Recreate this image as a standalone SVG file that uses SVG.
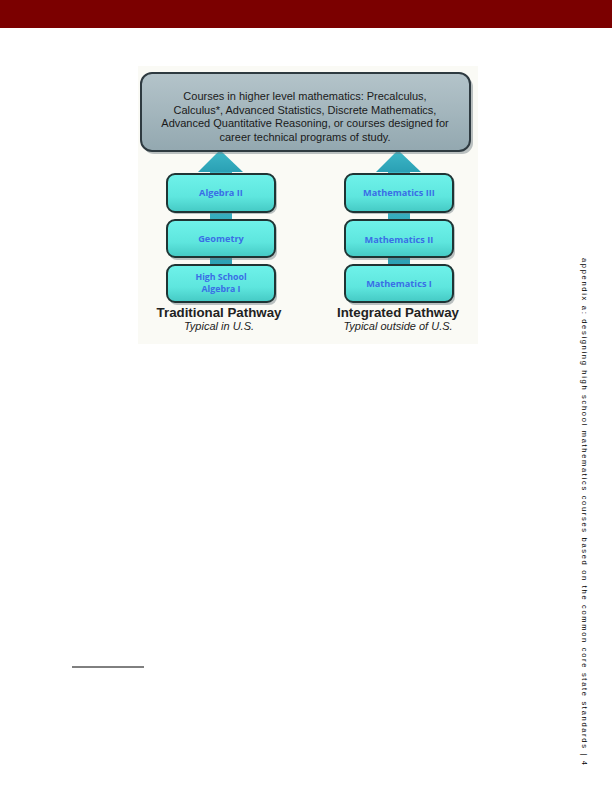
<svg xmlns="http://www.w3.org/2000/svg" width="612" height="792" viewBox="0 0 612 792">
<defs>
<linearGradient id="gTop" x1="0" y1="0" x2="0" y2="1">
<stop offset="0" stop-color="#b4c4ca"/>
<stop offset="1" stop-color="#93a8b0"/>
</linearGradient>
<linearGradient id="gBox" x1="0" y1="0" x2="0" y2="1">
<stop offset="0" stop-color="#6ff2ea"/>
<stop offset="0.6" stop-color="#5ee6de"/>
<stop offset="1" stop-color="#44c9c4"/>
</linearGradient>
<linearGradient id="gArrow" x1="0" y1="0" x2="0" y2="1">
<stop offset="0" stop-color="#3fb8c8"/>
<stop offset="1" stop-color="#2aa0b4"/>
</linearGradient>
</defs>
<style>
.top{fill:url(#gTop);stroke:#2e3a40;stroke-width:2}
.shadow{fill:#6d7a80;opacity:0.45}
.box{fill:url(#gBox);stroke:#1f3434;stroke-width:2}
.arrow{fill:url(#gArrow)}
.topt{font-family:"Liberation Sans",Arial,sans-serif;font-size:11px;fill:#1a1a1a;text-anchor:middle}
.lbl{font-family:"Open Sans","DejaVu Sans",sans-serif;font-size:9.2px;font-weight:bold;fill:#3a6ee6;text-anchor:middle}
.lbl2{font-family:"Open Sans","DejaVu Sans",sans-serif;font-size:8.8px;font-weight:bold;fill:#3a6ee6;text-anchor:middle}
.path{font-family:"Liberation Sans",Arial,sans-serif;font-size:13.3px;font-weight:bold;fill:#222;text-anchor:middle}
.sub{font-family:"Liberation Sans",Arial,sans-serif;font-size:11px;font-style:italic;fill:#222;text-anchor:middle}
.side{font-family:"Liberation Sans",Arial,sans-serif;font-size:7.5px;fill:#000}
</style>
<rect x="0" y="0" width="612" height="28" fill="#7b0000"/>
<rect x="138" y="66" width="340" height="278" fill="#fafaf5"/>
<g id="connectors">
<rect class="arrow" x="210" y="165" width="22" height="105"/>
<polygon class="arrow" points="198,172 220,150 243,172"/>
<rect class="arrow" x="388" y="165" width="22" height="105"/>
<polygon class="arrow" points="376,172 398,150 421,172"/>
</g>
<g id="top-box">
<rect class="shadow" x="143" y="76" width="330" height="78" rx="11"/>
<rect class="top" x="141" y="73" width="329" height="78" rx="11"/>
<text class="topt" x="305" y="100">Courses in higher level mathematics: Precalculus,</text>
<text class="topt" x="305" y="114">Calculus*, Advanced Statistics, Discrete Mathematics,</text>
<text class="topt" x="305" y="127">Advanced Quantitative Reasoning, or courses designed for</text>
<text class="topt" x="305" y="141">career technical programs of study.</text>
</g>
<g id="algebra2">
<rect class="shadow" x="169" y="176" width="108" height="38" rx="8"/>
<rect class="box" x="167" y="174" width="108" height="38" rx="8"/>
<text class="lbl" x="221" y="196">Algebra II</text>
</g>
<g id="geometry">
<rect class="shadow" x="169" y="222" width="108" height="38" rx="8"/>
<rect class="box" x="167" y="220" width="108" height="37" rx="8"/>
<text class="lbl" x="221" y="242">Geometry</text>
</g>
<g id="algebra1">
<rect class="shadow" x="169" y="267" width="108" height="38" rx="8"/>
<rect class="box" x="167" y="265" width="108" height="37" rx="8"/>
<text class="lbl2" x="221" y="280">High School</text>
<text class="lbl2" x="221" y="292">Algebra I</text>
</g>
<g id="math3">
<rect class="shadow" x="347" y="176" width="108" height="38" rx="8"/>
<rect class="box" x="345" y="174" width="108" height="38" rx="8"/>
<text class="lbl" x="399" y="196">Mathematics III</text>
</g>
<g id="math2">
<rect class="shadow" x="347" y="222" width="108" height="38" rx="8"/>
<rect class="box" x="345" y="220" width="108" height="37" rx="8"/>
<text class="lbl" x="399" y="243">Mathematics II</text>
</g>
<g id="math1">
<rect class="shadow" x="347" y="267" width="108" height="38" rx="8"/>
<rect class="box" x="345" y="265" width="108" height="37" rx="8"/>
<text class="lbl" x="399" y="287">Mathematics I</text>
</g>
<g id="traditional">
<text class="path" x="219" y="317">Traditional Pathway</text>
<text class="sub" x="219" y="330">Typical in U.S.</text>
</g>
<g id="integrated">
<text class="path" x="398" y="317">Integrated Pathway</text>
<text class="sub" x="398" y="330">Typical outside of U.S.</text>
</g>
<line x1="72" y1="667" x2="144" y2="667" stroke="#000" stroke-width="1"/>
<text class="side" transform="translate(582,258) rotate(90)" textLength="507" lengthAdjust="spacing">appendix a: designing high school mathematics courses based on the common core state standards | 4</text>
</svg>
